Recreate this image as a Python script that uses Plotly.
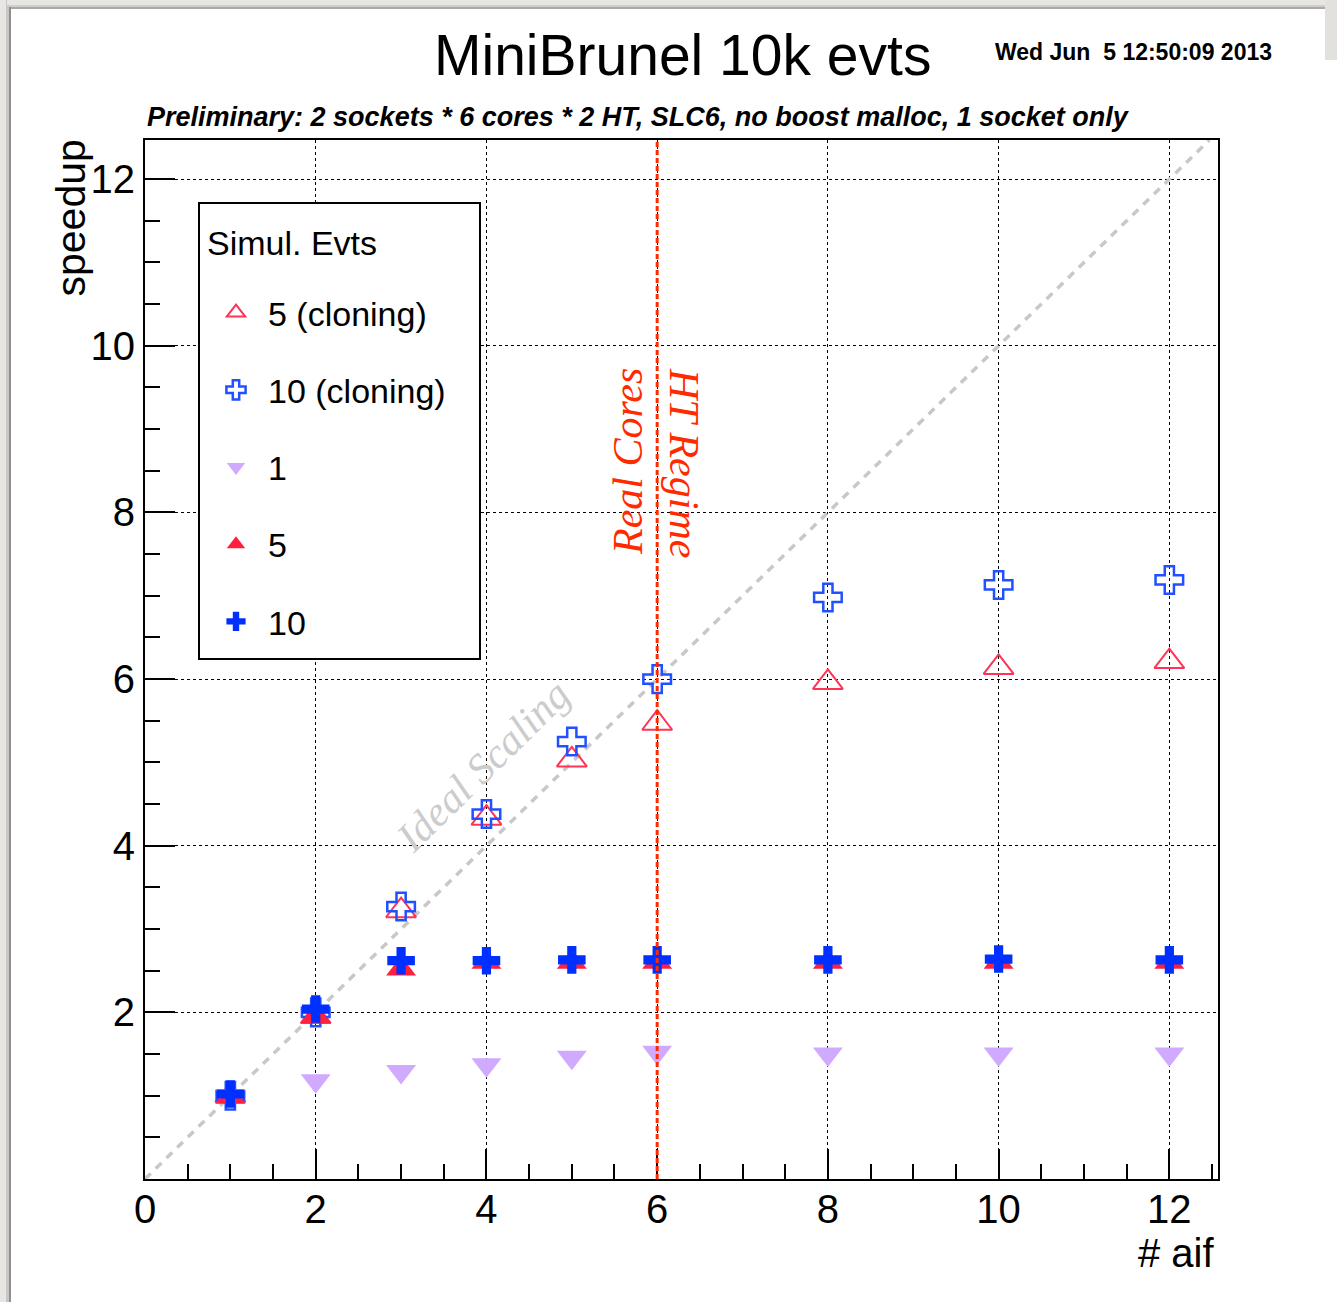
import plotly.graph_objects as go

# ---------------- data ----------------
aif = [1, 2, 3, 4, 5, 6, 8, 10, 12]
clone5 = [1.00, 1.95, 3.22, 4.33, 5.03, 5.47, 5.96, 6.14, 6.21]
clone10 = [1.00, 2.00, 3.27, 4.38, 5.25, 6.00, 6.98, 7.13, 7.19]
evts1 = [1.00, 1.18, 1.29, 1.37, 1.46, 1.52, 1.50, 1.50, 1.50]
evts5 = [0.98, 1.95, 2.52, 2.60, 2.60, 2.60, 2.60, 2.60, 2.60]
evts10 = [1.02, 2.04, 2.62, 2.62, 2.63, 2.63, 2.63, 2.64, 2.63]

series_names = ["5 (cloning)", "10 (cloning)", "1", "5", "10"]
x_ticks = [0, 2, 4, 6, 8, 10, 12]
y_ticks = [2, 4, 6, 8, 10, 12]
X_MAX = 12.57
Y_MAX = 12.47
HT_BOUNDARY = 6

# ---------------- layout geometry ----------------
W, H = 1337, 1302
ML, MR, MT, MB = 145, 119, 140, 123
PW = W - ML - MR
PH = H - MT - MB


def px(x):
    return (x - ML) / PW


def py(y):
    return (H - MB - y) / PH


FONT = "Liberation Sans, Arial, sans-serif"
SERIF = "Liberation Serif, Times New Roman, serif"

fig = go.Figure()

styles = [
    dict(symbol="triangle-up-open", size=26, color="#ff3355", line=dict(width=2, color="#ff3355")),
    dict(symbol="cross-open", size=23, color="#2050ff", line=dict(width=2.5, color="#2050ff")),
    dict(symbol="triangle-down", size=26, color="#d0aaff", line=dict(width=0)),
    dict(symbol="triangle-up", size=26, color="#ff2040", line=dict(width=0)),
    dict(symbol="cross", size=23, color="#0030ff", line=dict(width=0)),
]
values = [clone5, clone10, evts1, evts5, evts10]

for i, (name, vals, st) in enumerate(zip(series_names, values, styles)):
    fig.add_trace(go.Scatter(
        x=aif, y=vals, mode="markers", name=name,
        legendgroup=f"g{i}", legendrank=i + 1,
        marker=st, cliponaxis=False,
    ))

axis_common = dict(
    showline=True, linecolor="black", linewidth=2, mirror=True,
    ticks="inside", ticklen=30, tickwidth=2, tickcolor="black",
    showgrid=True, gridcolor="black", gridwidth=1.3, griddash="dot",
    zeroline=False,
    tickfont=dict(family=FONT, size=40, color="black"),
    minor=dict(dtick=0.5, ticks="inside", ticklen=15, tickwidth=2,
               tickcolor="black", showgrid=False),
)

fig.update_xaxes(range=[0, X_MAX], tickvals=x_ticks, ticklabelstandoff=-6, **axis_common)
fig.update_yaxes(range=[0, Y_MAX], tickvals=y_ticks, **axis_common)

shapes = [
    # ideal scaling line
    dict(type="line", xref="x", yref="y", x0=0, y0=0, x1=min(X_MAX, Y_MAX), y1=min(X_MAX, Y_MAX),
         line=dict(color="#c8c8c8", width=3.5, dash="8px,7px"), layer="between"),
    # real cores / HT boundary
    dict(type="line", xref="x", yref="paper", x0=HT_BOUNDARY, x1=HT_BOUNDARY, y0=0, y1=1,
         line=dict(color="#ff2a00", width=3, dash="5px,3px"), layer="above"),
    # legend frame
    dict(type="rect", xref="paper", yref="paper", x0=px(199), x1=px(480), y0=py(659), y1=py(203),
         line=dict(color="black", width=2), fillcolor="white", layer="above"),
]

# window-like grey border on top and left
for (x0, x1, c) in [(0, 6, "#e8e6e2"), (6, 9, "#c9c7c3"), (9, 11, "#8f8f8f")]:
    shapes.append(dict(type="rect", xref="paper", yref="paper",
                       x0=px(x0), x1=px(x1), y0=py(H), y1=py(0),
                       line=dict(width=0), fillcolor=c, layer="above"))
for (y0, y1, c) in [(0, 5, "#e8e6e2"), (5, 7, "#d0cec9"), (7, 9, "#a9a9a9")]:
    shapes.append(dict(type="rect", xref="paper", yref="paper",
                       x0=px(y1 + 2), x1=px(W - 12), y0=py(y1), y1=py(y0),
                       line=dict(width=0), fillcolor=c, layer="above"))
shapes.append(dict(type="rect", xref="paper", yref="paper",
                   x0=px(W - 12), x1=px(W), y0=py(60), y1=py(0),
                   line=dict(width=0), fillcolor="#e3e1dd", layer="above"))

annotations = [
    dict(text="MiniBrunel 10k evts", xref="paper", yref="paper", x=px(682), y=py(55),
         xanchor="center", yanchor="middle", showarrow=False,
         font=dict(family=FONT, size=57, color="black")),
    dict(text="<b>Wed Jun  5 12:50:09 2013</b>", xref="paper", yref="paper", x=px(1274), y=py(52),
         xanchor="right", yanchor="middle", showarrow=False,
         font=dict(family=FONT, size=23, color="black")),
    dict(text="<b><i>Preliminary: 2 sockets * 6 cores * 2 HT, SLC6, no boost malloc, 1 socket only</i></b>",
         xref="paper", yref="paper", x=px(145), y=py(117),
         xanchor="left", yanchor="middle", showarrow=False,
         font=dict(family=FONT, size=27, color="black")),
    dict(text="speedup", xref="paper", yref="paper", x=px(70), y=py(138),
         xanchor="center", yanchor="top", textangle=-90, showarrow=False,
         font=dict(family=FONT, size=41, color="black")),
    dict(text="# aif", xref="paper", yref="paper", x=px(1216), y=py(1253),
         xanchor="right", yanchor="middle", showarrow=False,
         font=dict(family=FONT, size=40, color="black")),
    dict(text="<i>Real Cores</i>", xref="paper", yref="paper", x=px(628), y=py(462),
         xanchor="center", yanchor="middle", textangle=-90, showarrow=False,
         font=dict(family=SERIF, size=42, color="#ff2a00")),
    dict(text="<i>HT Regime</i>", xref="paper", yref="paper", x=px(684), y=py(463),
         xanchor="center", yanchor="middle", textangle=90, showarrow=False,
         font=dict(family=SERIF, size=42, color="#ff2a00")),
    dict(text="<i>Ideal Scaling</i>", xref="paper", yref="paper", x=px(483), y=py(766),
         xanchor="center", yanchor="middle", textangle=-44.5, showarrow=False,
         font=dict(family=SERIF, size=42, color="#cccccc")),
    dict(text="Simul. Evts", xref="paper", yref="paper", x=px(205), y=py(243),
         xanchor="left", yanchor="middle", showarrow=False,
         font=dict(family=FONT, size=34, color="black")),
]

fig.update_layout(
    width=W, height=H,
    margin=dict(l=ML, r=MR, t=MT, b=MB, pad=0),
    paper_bgcolor="white", plot_bgcolor="white",
    font=dict(family=FONT, color="black"),
    showlegend=True,
    legend=dict(
        x=px(204), y=py(284), xanchor="left", yanchor="top",
        bgcolor="rgba(0,0,0,0)", borderwidth=0,
        font=dict(family=FONT, size=34, color="black"),
        tracegroupgap=30, itemwidth=54, traceorder="grouped",
    ),
    shapes=shapes,
    annotations=annotations,
)

fig.write_html("out.html", config={"displayModeBar": False},
               post_script="document.body.style.margin='0px';")
